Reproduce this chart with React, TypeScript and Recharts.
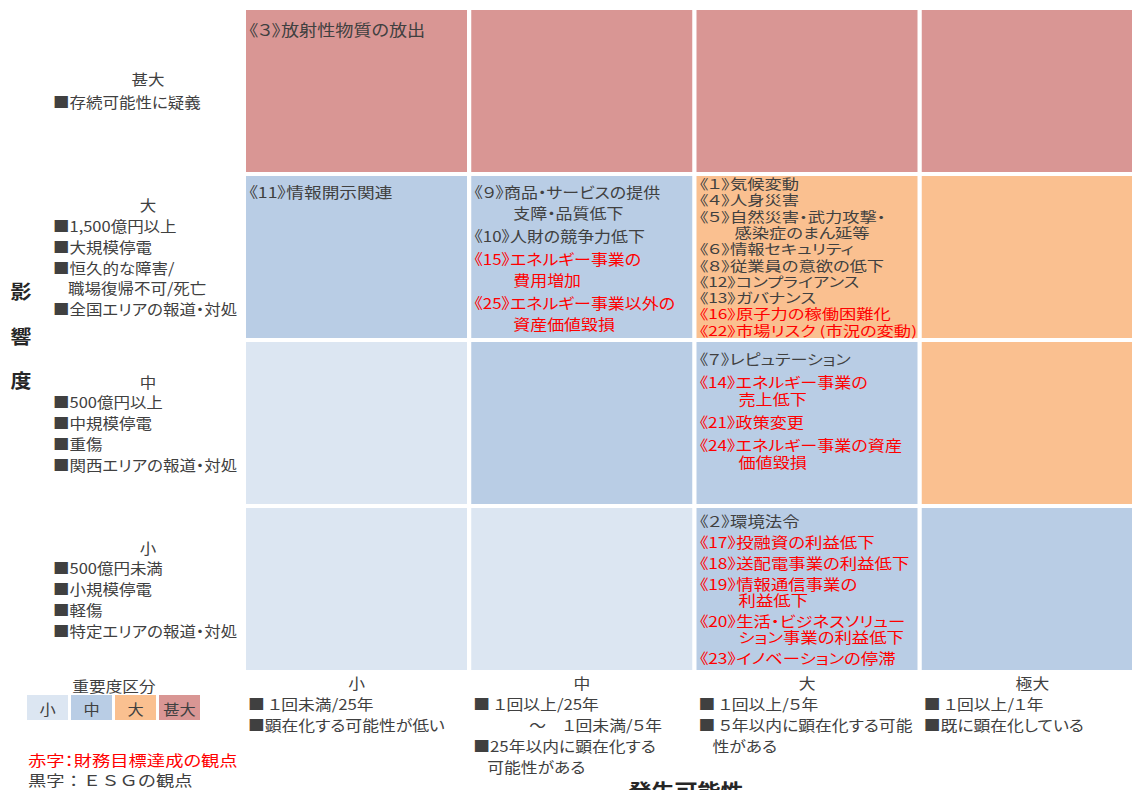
import React from 'react';
import { BarChart, Bar, XAxis, YAxis, Customized } from 'recharts';

// ---------- data ----------
const likelihoodLevels = ['小', '中', '大', '極大'];
const likelihoodNotes = [
  ['■ １回未満/25年', '■顕在化する可能性が低い'],
  ['■ １回以上/25年', '～　１回未満/５年', '■25年以内に顕在化する', '可能性がある'],
  ['■ １回以上/５年', '■ ５年以内に顕在化する可能', '性がある'],
  ['■ １回以上/１年', '■既に顕在化している'],
];
const impactLevels = ['小', '中', '大', '甚大']; // bottom -> top
const impactNotes = [
  ['■500億円未満', '■小規模停電', '■軽傷', '■特定エリアの報道・対処'],
  ['■500億円以上', '■中規模停電', '■重傷', '■関西エリアの報道・対処'],
  ['■1,500億円以上', '■大規模停電', '■恒久的な障害/', '職場復帰不可/死亡', '■全国エリアの報道・対処'],
  ['■存続可能性に疑義'],
];
const severityLabels = ['小', '中', '大', '甚大'];
const severityColors = ['#dce6f2', '#b9cde5', '#fac090', '#d99694'];
// severity index per impact row (bottom -> top) and likelihood column
const severityGrid = [
  [0, 0, 1, 1],
  [0, 1, 1, 2],
  [1, 1, 2, 2],
  [3, 3, 3, 3],
];

type Risk = { no: string; lines: string[]; impact: number; likelihood: number; financial: boolean };
const risks: Risk[] = [
  { no: '《３》', lines: ['放射性物質の放出'], impact: 3, likelihood: 0, financial: false },
  { no: '《11》', lines: ['情報開示関連'], impact: 2, likelihood: 0, financial: false },
  { no: '《９》', lines: ['商品・サービスの提供', '支障・品質低下'], impact: 2, likelihood: 1, financial: false },
  { no: '《10》', lines: ['人財の競争力低下'], impact: 2, likelihood: 1, financial: false },
  { no: '《15》', lines: ['エネルギー事業の', '費用増加'], impact: 2, likelihood: 1, financial: true },
  { no: '《25》', lines: ['エネルギー事業以外の', '資産価値毀損'], impact: 2, likelihood: 1, financial: true },
  { no: '《１》', lines: ['気候変動'], impact: 2, likelihood: 2, financial: false },
  { no: '《４》', lines: ['人身災害'], impact: 2, likelihood: 2, financial: false },
  { no: '《５》', lines: ['自然災害・武力攻撃・', '感染症のまん延等'], impact: 2, likelihood: 2, financial: false },
  { no: '《６》', lines: ['情報セキュリティ'], impact: 2, likelihood: 2, financial: false },
  { no: '《８》', lines: ['従業員の意欲の低下'], impact: 2, likelihood: 2, financial: false },
  { no: '《12》', lines: ['コンプライアンス'], impact: 2, likelihood: 2, financial: false },
  { no: '《13》', lines: ['ガバナンス'], impact: 2, likelihood: 2, financial: false },
  { no: '《16》', lines: ['原子力の稼働困難化'], impact: 2, likelihood: 2, financial: true },
  { no: '《22》', lines: ['市場リスク (市況の変動)'], impact: 2, likelihood: 2, financial: true },
  { no: '《７》', lines: ['レピュテーション'], impact: 1, likelihood: 2, financial: false },
  { no: '《14》', lines: ['エネルギー事業の', '売上低下'], impact: 1, likelihood: 2, financial: true },
  { no: '《21》', lines: ['政策変更'], impact: 1, likelihood: 2, financial: true },
  { no: '《24》', lines: ['エネルギー事業の資産', '価値毀損'], impact: 1, likelihood: 2, financial: true },
  { no: '《２》', lines: ['環境法令'], impact: 0, likelihood: 2, financial: false },
  { no: '《17》', lines: ['投融資の利益低下'], impact: 0, likelihood: 2, financial: true },
  { no: '《18》', lines: ['送配電事業の利益低下'], impact: 0, likelihood: 2, financial: true },
  { no: '《19》', lines: ['情報通信事業の', '利益低下'], impact: 0, likelihood: 2, financial: true },
  { no: '《20》', lines: ['生活・ビジネスソリュー', 'ション事業の利益低下'], impact: 0, likelihood: 2, financial: true },
  { no: '《23》', lines: ['イノベーションの停滞'], impact: 0, likelihood: 2, financial: true },
];
const axisTitleY = '影響度';
const axisTitleX = '発生可能性';
const legendTitle = '重要度区分';
const footnotes = [
  { text: '赤字：財務目標達成の観点', financial: true },
  { text: '黒字：ＥＳＧの観点', financial: false },
];

// ---------- style / layout ----------
const FONT = '"Noto Sans CJK JP", "Noto Sans", sans-serif';
const DARK = '#404040';
const RED = '#ff0000';
const GAP = 2; // half white gap between cells
const HALF_BAND = 112.6;

type TProps = {
  x: number;
  y: number;
  sx?: number;
  size?: number;
  anchor?: 'start' | 'middle' | 'end';
  fill?: string;
  weight?: string;
  palt?: boolean;
  children: React.ReactNode;
};
const T = ({ x, y, sx = 1.18, size = 15, anchor = 'start', fill = DARK, weight = 'normal', palt = true, children }: TProps) => (
  <text
    transform={`translate(${x},${y}) scale(${sx},1)`}
    x={0}
    y={0}
    textAnchor={anchor}
    dominantBaseline="central"
    fontSize={size}
    fontFamily={FONT}
    fill={fill}
    fontWeight={weight}
    style={palt ? { fontFeatureSettings: '"palt"' } : undefined}
  >
    {children}
  </text>
);

const cellLayout: Record<string, { top: number; step: number; gap: number; size: number; sx: number; indent: number }> = {
  '3-0': { top: 19, step: 21, gap: 2, size: 15.5, sx: 1.17, indent: 38 },
  '2-0': { top: 16, step: 21, gap: 2, size: 15, sx: 1.18, indent: 38 },
  '2-1': { top: 15, step: 21, gap: 2, size: 15, sx: 1.13, indent: 39 },
  '2-2': { top: 7, step: 16.3, gap: 0, size: 13.5, sx: 1.28, indent: 35 },
  '1-2': { top: 17, step: 17, gap: 6, size: 14.5, sx: 1.18, indent: 39 },
  '0-2': { top: 13, step: 16, gap: 5, size: 14.5, sx: 1.2, indent: 39 },
};
const defaultLayout = { top: 16, step: 21, gap: 2, size: 15, sx: 1.18, indent: 38 };

const chartData = likelihoodLevels.map((l, i) => {
  const row: any = { col: l, idx: i };
  impactLevels.forEach((_, r) => (row['r' + r] = 1));
  return row;
});

const makeShape = (row: number) => (props: any) => {
  const { x, y, width, height, payload } = props;
  const col = payload.idx;
  const sev = severityGrid[row][col];
  const vx = x + GAP;
  const vy = y + GAP;
  const items = risks.filter((k) => k.impact === row && k.likelihood === col);
  const lay = cellLayout[`${row}-${col}`] || defaultLayout;
  const texts: React.ReactNode[] = [];
  let cy = vy + lay.top;
  items.forEach((it, i) => {
    if (i > 0) cy += lay.gap;
    it.lines.forEach((ln, j) => {
      texts.push(
        <T
          key={`${i}-${j}`}
          x={vx + 3 + (j === 0 ? 0 : lay.indent)}
          y={cy}
          size={lay.size}
          sx={lay.sx}
          fill={it.financial ? RED : DARK}
        >
          {j === 0 ? it.no + ln : ln}
        </T>
      );
      cy += lay.step;
    });
  });
  return (
    <g>
      <rect x={vx} y={vy} width={width - 2 * GAP} height={height - 2 * GAP} fill={severityColors[sev]} />
      {texts}
    </g>
  );
};

const ImpactTick = (props: any) => {
  const { y, payload } = props;
  const r = Math.floor(payload.value);
  const notes = impactNotes[r];
  const step = 20.8;
  const total = notes.length * step;
  const startY = y - total / 2 - (r === 3 ? 2 : 0);
  return (
    <g>
      <T x={148} y={startY} anchor="middle" sx={1.1}>
        {impactLevels[r]}
      </T>
      {notes.map((n, i) => (
        <T key={i} x={n.startsWith('■') ? 53 : 68} y={startY + (i + 1) * step + (r === 3 ? 2 : 0)} sx={1.1}>
          {n}
        </T>
      ))}
    </g>
  );
};

const LikelihoodTick = (props: any) => {
  const { x, y, payload } = props;
  const c = likelihoodLevels.indexOf(payload.value);
  const left = x - HALF_BAND + 4;
  return (
    <g>
      <T x={x} y={y + 11} anchor="middle" sx={1.12}>
        {payload.value}
      </T>
      {likelihoodNotes[c].map((n, i) => (
        <T
          key={i}
          x={left + (n.startsWith('■') ? 0 : n.startsWith('～') ? 56 : 14)}
          y={y + 32 + i * 20.8}
          sx={1.12}
        >
          {n}
        </T>
      ))}
    </g>
  );
};

const Extras = () => (
  <g>
    {axisTitleY.split('').map((ch, i) => (
      <T key={ch} x={21} y={291 + i * 44.5} anchor="middle" size={19} sx={1.1} weight="bold" fill="#262626">
        {ch}
      </T>
    ))}
    <T x={114} y={686} anchor="middle" size={14.5} sx={1.15}>
      {legendTitle}
    </T>
    {severityLabels.map((s, i) => (
      <g key={s}>
        <rect x={27 + i * 44} y={695} width={41} height={25} fill={severityColors[i]} />
        <T x={27 + i * 44 + 20.5} y={708} anchor="middle" size={14.5} sx={1.12}>
          {s}
        </T>
      </g>
    ))}
    {footnotes.map((f, i) => (
      <T key={i} x={28} y={760 + i * 20} size={15} sx={1.22} palt={f.financial} fill={f.financial ? RED : DARK}>
        {f.text}
      </T>
    ))}
    <T x={686} y={790} anchor="middle" size={20} sx={1.15} weight="bold" fill="#262626">
      {axisTitleX}
    </T>
  </g>
);

export default function App() {
  return (
    <div style={{ width: 1132, height: 790, overflow: 'hidden', position: 'relative', background: '#fff' }}>
      <style>{'body{margin:0}'}</style>
      <BarChart
        width={1146}
        height={790}
        data={chartData}
        margin={{ top: 8, right: 1, bottom: 8, left: 44 }}
        barCategoryGap={0}
        barGap={0}
      >
        <XAxis
          dataKey="col"
          type="category"
          height={110}
          axisLine={false}
          tickLine={false}
          tickSize={0}
          tickMargin={0}
          interval={0}
          tick={(p: any) => <LikelihoodTick {...p} />}
        />
        <YAxis
          type="number"
          domain={[0, 4]}
          ticks={[0.5, 1.5, 2.5, 3.5]}
          width={200}
          axisLine={false}
          tickLine={false}
          interval={0}
          tick={(p: any) => <ImpactTick {...p} />}
        />
        {impactLevels.map((lvl, r) => (
          <Bar
            key={lvl + r}
            dataKey={'r' + r}
            stackId="grid"
            isAnimationActive={false}
            shape={makeShape(r)}
            activeBar={false}
          />
        ))}
        <Customized component={<Extras />} />
      </BarChart>
    </div>
  );
}
